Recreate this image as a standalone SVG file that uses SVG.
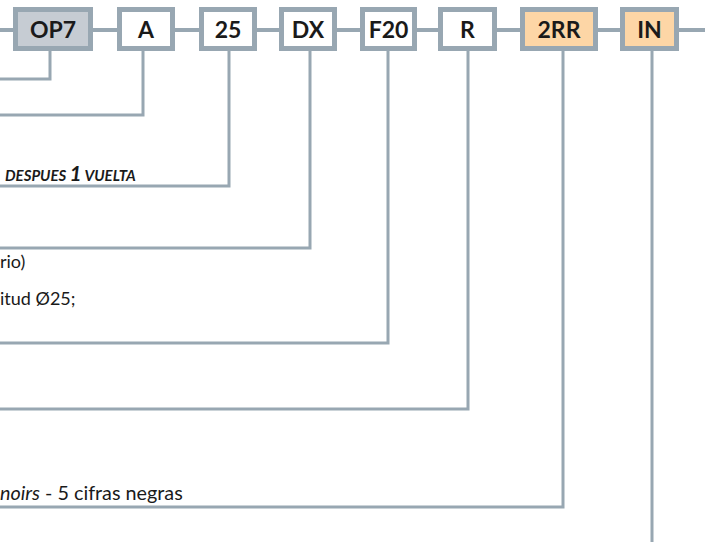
<svg xmlns="http://www.w3.org/2000/svg" width="714" height="542" viewBox="0 0 714 542">
<style>
.box{stroke:#98a7b2;stroke-width:5;fill:#ffffff}
.grey{fill:#c6ccd3}
.peach{fill:#fdd6a6}
.lbl{font-family:Lato,"Open Sans","Liberation Sans",sans-serif;font-weight:bold;font-size:23px;fill:#1a1a1a;text-anchor:middle}
.con{stroke:#98a7b2;stroke-width:3;fill:none}
.main{stroke:#98a7b2;stroke-width:4;fill:none}
.txt{font-family:Lato,"Open Sans","Liberation Sans",sans-serif;font-size:18px;fill:#1a1a1a}
.big{font-size:19.8px}
.sc{font-family:Lato,"Open Sans","Liberation Sans",sans-serif;font-weight:bold;font-style:italic;font-size:15px;fill:#1a1a1a}
</style>
<rect width="714" height="542" fill="#ffffff"/>
<g id="connectors">
<line class="main" x1="0" y1="30" x2="705" y2="30"/>
<polyline class="con" points="50,51 50,79 0,79"/>
<polyline class="con" points="143,51 143,115 0,115"/>
<polyline class="con" points="229,51 229,186 0,186"/>
<polyline class="con" points="310,51 310,248 0,248"/>
<polyline class="con" points="388,51 388,343 0,343"/>
<polyline class="con" points="468,51 468,409 0,409"/>
<polyline class="con" points="563,51 563,507 0,507"/>
<polyline class="con" points="652,51 652,542"/>
</g>
<g id="node-op7"><rect class="box grey" x="15.5" y="9.5" width="75" height="39"/><text class="lbl" x="53" y="38">OP7</text></g>
<g id="node-a"><rect class="box" x="119.5" y="9.5" width="53" height="39"/><text class="lbl" x="146" y="38">A</text></g>
<g id="node-25"><rect class="box" x="201.5" y="9.5" width="53" height="39"/><text class="lbl" x="228" y="38">25</text></g>
<g id="node-dx"><rect class="box" x="281.5" y="9.5" width="53" height="39"/><text class="lbl" x="308" y="38">DX</text></g>
<g id="node-f20"><rect class="box" x="362.5" y="9.5" width="52" height="39"/><text class="lbl" x="388.5" y="38">F20</text></g>
<g id="node-r"><rect class="box" x="440.5" y="9.5" width="54" height="39"/><text class="lbl" x="467.5" y="38">R</text></g>
<g id="node-2rr"><rect class="box peach" x="522.5" y="9.5" width="73" height="39"/><text class="lbl" x="559" y="38">2RR</text></g>
<g id="node-in"><rect class="box peach" x="622.5" y="9.5" width="54" height="39"/><text class="lbl" x="649.5" y="38">IN</text></g>
<g id="texts">
<text class="sc" x="5" y="181">DESPUES <tspan font-size="21px">1</tspan> VUELTA</text>
<text class="txt" x="0" y="268">rio)</text>
<text class="txt" x="0" y="305">itud Ø25;</text>
<text class="txt big" x="0" y="500"><tspan font-style="italic">noirs</tspan> - 5 cifras negras</text>
</g>
</svg>
